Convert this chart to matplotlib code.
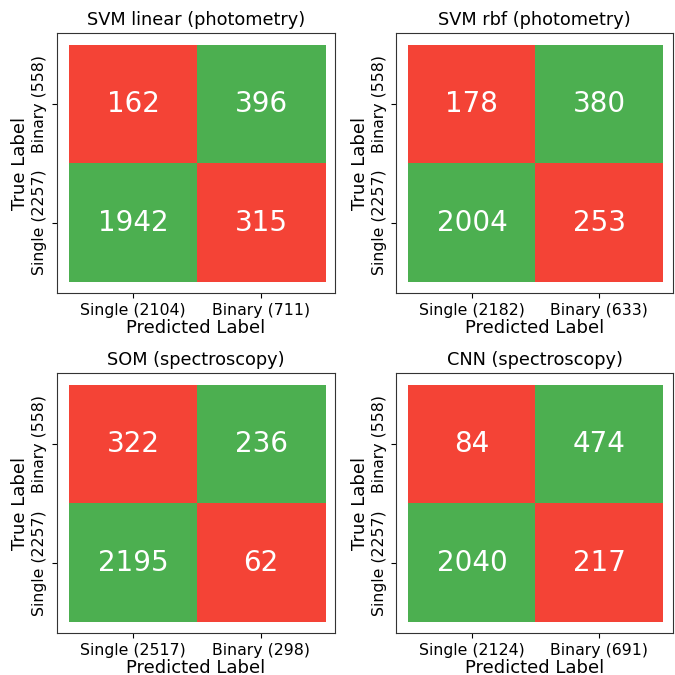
import matplotlib
matplotlib.use('Agg')
import matplotlib.pyplot as plt
from matplotlib.colors import ListedColormap
import numpy as np

# confusion matrices: rows = true (Binary, Single), cols = predicted (Single, Binary)
titles = ['SVM linear (photometry)', 'SVM rbf (photometry)',
          'SOM (spectroscopy)', 'CNN (spectroscopy)']
matrices = [
    [[162, 396], [1942, 315]],
    [[178, 380], [2004, 253]],
    [[322, 236], [2195, 62]],
    [[84, 474], [2040, 217]],
]
pred_labels = [
    ['Single (2104)', 'Binary (711)'],
    ['Single (2182)', 'Binary (633)'],
    ['Single (2517)', 'Binary (298)'],
    ['Single (2124)', 'Binary (691)'],
]
true_labels = ['Binary (558)', 'Single (2257)']

# red = wrong, green = right
mask = np.array([[0, 1], [1, 0]])
cmap = ListedColormap(['#F44336', '#4CAF50'])

fig = plt.figure(figsize=(6.75, 6.75), dpi=100)
positions = [
    [0.0844, 0.566, 0.412, 0.385],
    [0.587, 0.566, 0.41, 0.385],
    [0.0844, 0.062, 0.412, 0.385],
    [0.587, 0.062, 0.41, 0.385],
]

for k in range(4):
    ax = fig.add_axes(positions[k])
    matrix = np.array(matrices[k])
    ax.imshow(mask, cmap=cmap, aspect='auto', interpolation='nearest')
    ax.set_xlim(-0.594, 1.578)
    ax.set_ylim(1.594, -0.6)
    for i in range(2):
        for j in range(2):
            ax.text(j, i, str(matrix[i][j]), color='white', ha='center',
                    va='center', fontsize=20)
    ax.set_xticks([0, 1])
    ax.set_xticklabels(pred_labels[k], fontsize=11.3)
    ax.set_yticks([0, 1])
    ax.set_yticklabels(true_labels, fontsize=11.3, rotation=90, va='center')
    ax.set_xlabel('Predicted Label', fontsize=13, labelpad=1)
    ax.set_ylabel('True Label', fontsize=13, labelpad=2)
    ax.set_title(titles[k], fontsize=12.8, pad=6)
    for sp in ax.spines.values():
        sp.set_color('#333333')

plt.savefig('out.png', dpi=100)
